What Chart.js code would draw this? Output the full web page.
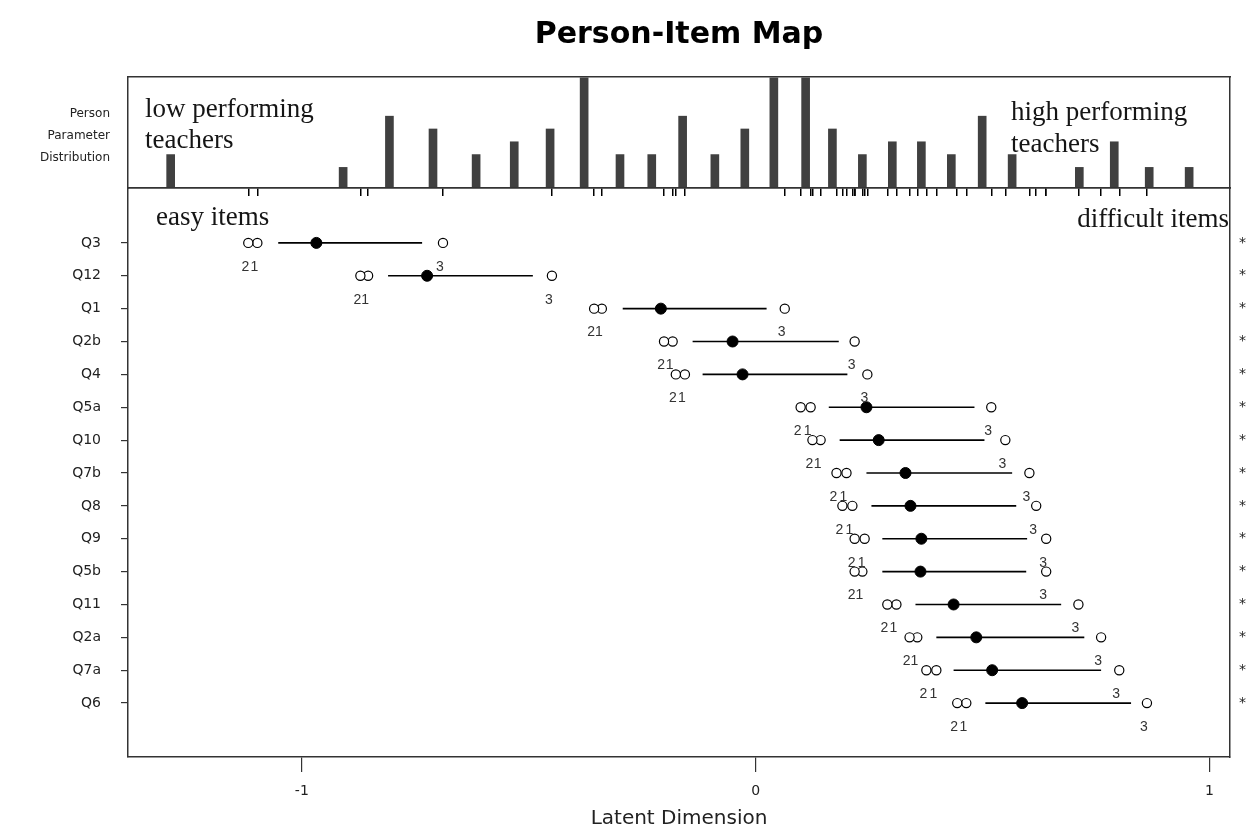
<!DOCTYPE html>
<html lang="en">
<head>
  <meta charset="UTF-8">
  <title>Person-Item Map</title>
  <script src="https://cdn.jsdelivr.net/npm/chart.js"></script>
  <style>
    body { margin: 0; background: #fff; }
    #wrap { position: relative; width: 1251px; height: 831px; }
    canvas { position: absolute; left: 0; }
    #histChart { top: 0; }
    #itemChart { top: 150px; }
  </style>
</head>
<body>
<div id="wrap">
  <canvas id="histChart" width="1251" height="200"></canvas>
  <canvas id="itemChart" width="1251" height="681"></canvas>
</div>

<script>
  // person parameter distribution (location, count)
  const personX = [-1.289, -0.909, -0.807, -0.711, -0.616, -0.532, -0.453, -0.378, -0.299, -0.229,
                   -0.161, -0.090, -0.024, 0.040, 0.110, 0.169, 0.235, 0.301, 0.365, 0.431,
                   0.499, 0.565, 0.713, 0.790, 0.867, 0.955];
  const personN = [2, 1, 5, 4, 2, 3, 4, 8, 2, 2,
                   5, 2, 4, 8, 8, 4, 2, 3, 3, 2,
                   5, 2, 1, 3, 1, 1];

  // items, top to bottom
  const items = ['Q3', 'Q12', 'Q1', 'Q2b', 'Q4', 'Q5a', 'Q10', 'Q7b', 'Q8', 'Q9', 'Q5b', 'Q11', 'Q2a', 'Q7a', 'Q6'];
  const thr1 = [-1.098, -0.854, -0.339, -0.183, -0.156, 0.121, 0.143, 0.200, 0.213, 0.240, 0.235, 0.310, 0.356, 0.398, 0.464];
  const thr2 = [-1.118, -0.871, -0.356, -0.202, -0.176, 0.099, 0.125, 0.178, 0.191, 0.218, 0.218, 0.290, 0.339, 0.376, 0.444];
  const thr3 = [-0.689, -0.449, 0.064, 0.218, 0.246, 0.519, 0.550, 0.603, 0.618, 0.640, 0.640, 0.711, 0.761, 0.801, 0.862];
  const itemLoc = [-0.968, -0.724, -0.209, -0.051, -0.029, 0.244, 0.271, 0.330, 0.341, 0.365, 0.363, 0.436, 0.486, 0.521, 0.587];
  const barFrom = [-1.052, -0.810, -0.293, -0.139, -0.117, 0.161, 0.185, 0.244, 0.255, 0.279, 0.279, 0.352, 0.398, 0.436, 0.506];
  const barTo = [-0.735, -0.491, 0.024, 0.183, 0.202, 0.482, 0.504, 0.565, 0.574, 0.598, 0.596, 0.673, 0.724, 0.761, 0.827];

  const xTicks = [-1, 0, 1];
  const X_MIN = -1.383, X_MAX = 1.045;
  const HIST_MIN = -0.61, HIST_MAX = 8.06;

  const SANS = 'DejaVu Sans';
  const SERIF = 'Liberation Serif';
  const FRAME = '#333';

  const thresholds = [thr1, thr2, thr3];
  const rug = [].concat(thr1, thr2, thr3);

  function frameAxis(position, size) {
    return {
      position: position,
      type: 'linear',
      display: true,
      min: 0, max: 1,
      ticks: { display: false },
      grid: { drawOnChartArea: false, drawTicks: false },
      border: { display: true, color: FRAME, width: 1.5 },
      afterFit: ax => {
        if (position === 'top' || position === 'bottom') ax.height = size; else ax.width = size;
      }
    };
  }

  // fixed width for a side axis, and no extra padding from its labels
  function fixWidth(w) {
    return ax => {
      ax.width = w;
      ax.paddingTop = 0;
      ax.paddingBottom = 0;
    };
  }

  // serif notes typed over the panels
  const notes = {
    id: 'notes',
    afterDraw(chart, args, opts) {
      const ctx = chart.ctx, a = chart.chartArea;
      ctx.save();
      ctx.font = '27px "' + SERIF + '"';
      ctx.fillStyle = '#151515';
      ctx.textBaseline = 'alphabetic';
      opts.lines.forEach(l => {
        ctx.textAlign = l.align || 'left';
        const x = l.align === 'right' ? a.right + l.dx : a.left + l.dx;
        ctx.fillText(l.text, x, a.top + l.dy);
      });
      ctx.restore();
    }
  };

  // threshold numbers under the open circles
  const thrLabels = {
    id: 'thrLabels',
    afterDatasetsDraw(chart) {
      const ctx = chart.ctx;
      const xs = chart.scales.x, ys = chart.scales.y;
      ctx.save();
      ctx.font = '14px "Liberation Sans"';
      ctx.fillStyle = '#333';
      ctx.textAlign = 'center';
      ctx.textBaseline = 'middle';
      items.forEach((name, i) => {
        const py = ys.getPixelForValue(i + 1) + 24;
        [1, 0, 2].forEach(k => {
          ctx.fillText(String(k + 1), xs.getPixelForValue(thresholds[k][i]) - 3, py);
        });
      });
      ctx.restore();
    }
  };

  new Chart(document.getElementById('histChart'), {
    type: 'bar',
    data: {
      datasets: [{
        data: personX.map((x, i) => ({ x: x, y: personN[i] })),
        backgroundColor: '#404040',
        barThickness: 8,
        base: HIST_MIN
      }]
    },
    options: {
      responsive: false,
      animation: false,
      layout: { padding: 0, autoPadding: false },
      plugins: {
        legend: { display: false },
        tooltip: { enabled: false },
        title: {
          display: true,
          text: 'Person-Item Map',
          fullSize: false,
          color: '#000',
          font: { family: SANS, size: 30, weight: 'bold', lineHeight: 1.2 },
          padding: { top: 17, bottom: 24 }
        },
        notes: {
          lines: [
            { text: 'low performing', dx: 17, dy: 40 },
            { text: 'teachers', dx: 17, dy: 71 },
            { text: 'high performing', dx: 883, dy: 43 },
            { text: 'teachers', dx: 883, dy: 75 }
          ]
        }
      },
      scales: {
        x: {
          type: 'linear',
          min: X_MIN, max: X_MAX,
          offset: false,
          ticks: { display: false, autoSkip: false },
          grid: { offset: false, drawOnChartArea: false, drawTicks: true, tickLength: 8, color: '#000', lineWidth: 1.5 },
          border: { display: true, color: FRAME, width: 1.5 },
          afterBuildTicks: ax => { ax.ticks = rug.map(v => ({ value: v })); },
          afterFit: ax => { ax.height = 12; }
        },
        xTop: frameAxis('top', 0),
        y: {
          position: 'left',
          min: HIST_MIN, max: HIST_MAX,
          ticks: {
            color: '#222',
            padding: 18,
            font: { family: SANS, size: 12, lineHeight: 1.85 },
            callback: () => ['Person', 'Parameter', 'Distribution']
          },
          grid: { drawOnChartArea: false, drawTicks: false },
          border: { display: true, color: FRAME, width: 1.5 },
          afterBuildTicks: ax => { ax.ticks = [{ value: 3.45 }]; },
          afterFit: fixWidth(128)
        },
        yRight: frameAxis('right', 21)
      }
    },
    plugins: [notes]
  });

  const lineSets = items.map((name, i) => ({
    type: 'scatter',
    showLine: true,
    data: [{ x: barFrom[i], y: i + 1 }, { x: barTo[i], y: i + 1 }],
    borderColor: '#000',
    borderWidth: 1.6,
    pointRadius: 0,
    order: 2
  }));

  new Chart(document.getElementById('itemChart'), {
    type: 'scatter',
    data: {
      datasets: lineSets.concat([
        {
          data: [].concat(...thresholds.map(t => t.map((v, i) => ({ x: v, y: i + 1 })))),
          pointStyle: 'circle',
          pointRadius: 4.6,
          backgroundColor: '#fff',
          borderColor: '#000',
          borderWidth: 1.2,
          order: 1
        },
        {
          data: itemLoc.map((v, i) => ({ x: v, y: i + 1 })),
          pointStyle: 'circle',
          pointRadius: 5.5,
          backgroundColor: '#000',
          borderColor: '#000',
          borderWidth: 1,
          order: 0
        }
      ])
    },
    options: {
      responsive: false,
      animation: false,
      layout: { padding: 0, autoPadding: false },
      plugins: {
        legend: { display: false },
        tooltip: { enabled: false },
        notes: {
          lines: [
            { text: 'easy items', dx: 28, dy: 37 },
            { text: 'difficult items', dx: -1, dy: 39, align: 'right' }
          ]
        }
      },
      scales: {
        x: {
          type: 'linear',
          min: X_MIN, max: X_MAX,
          ticks: { color: '#222', padding: 11, font: { family: SANS, size: 14 } },
          grid: { drawOnChartArea: false, tickLength: 15, color: FRAME, lineWidth: 1.2 },
          border: { display: true, color: FRAME, width: 1.5 },
          title: {
            display: true,
            text: 'Latent Dimension',
            color: '#222',
            font: { family: SANS, size: 20 },
            padding: { top: 4, bottom: 0 }
          },
          afterBuildTicks: ax => { ax.ticks = xTicks.map(v => ({ value: v })); },
          afterFit: ax => { ax.height = 74; }
        },
        xTop: frameAxis('top', 38),
        y: {
          position: 'left',
          min: -0.67, max: 16.64,
          reverse: true,
          ticks: {
            color: '#222',
            padding: 20,
            font: { family: SANS, size: 14 },
            callback: (v, idx) => items[idx]
          },
          grid: { drawOnChartArea: false, tickLength: 7, color: FRAME, lineWidth: 1.2 },
          border: { display: true, color: FRAME, width: 1.5 },
          afterBuildTicks: ax => { ax.ticks = items.map((n, i) => ({ value: i + 1 })); },
          afterFit: fixWidth(128)
        },
        yRight: {
          position: 'right',
          min: -0.67, max: 16.64,
          reverse: true,
          ticks: {
            color: '#222',
            padding: 9,
            font: { family: SANS, size: 14 },
            callback: () => '*'
          },
          grid: { drawOnChartArea: false, drawTicks: false },
          border: { display: true, color: FRAME, width: 1.5 },
          afterBuildTicks: ax => { ax.ticks = items.map((n, i) => ({ value: i + 1 })); },
          afterFit: fixWidth(21)
        }
      }
    },
    plugins: [notes, thrLabels]
  });
</script>
</body>
</html>
